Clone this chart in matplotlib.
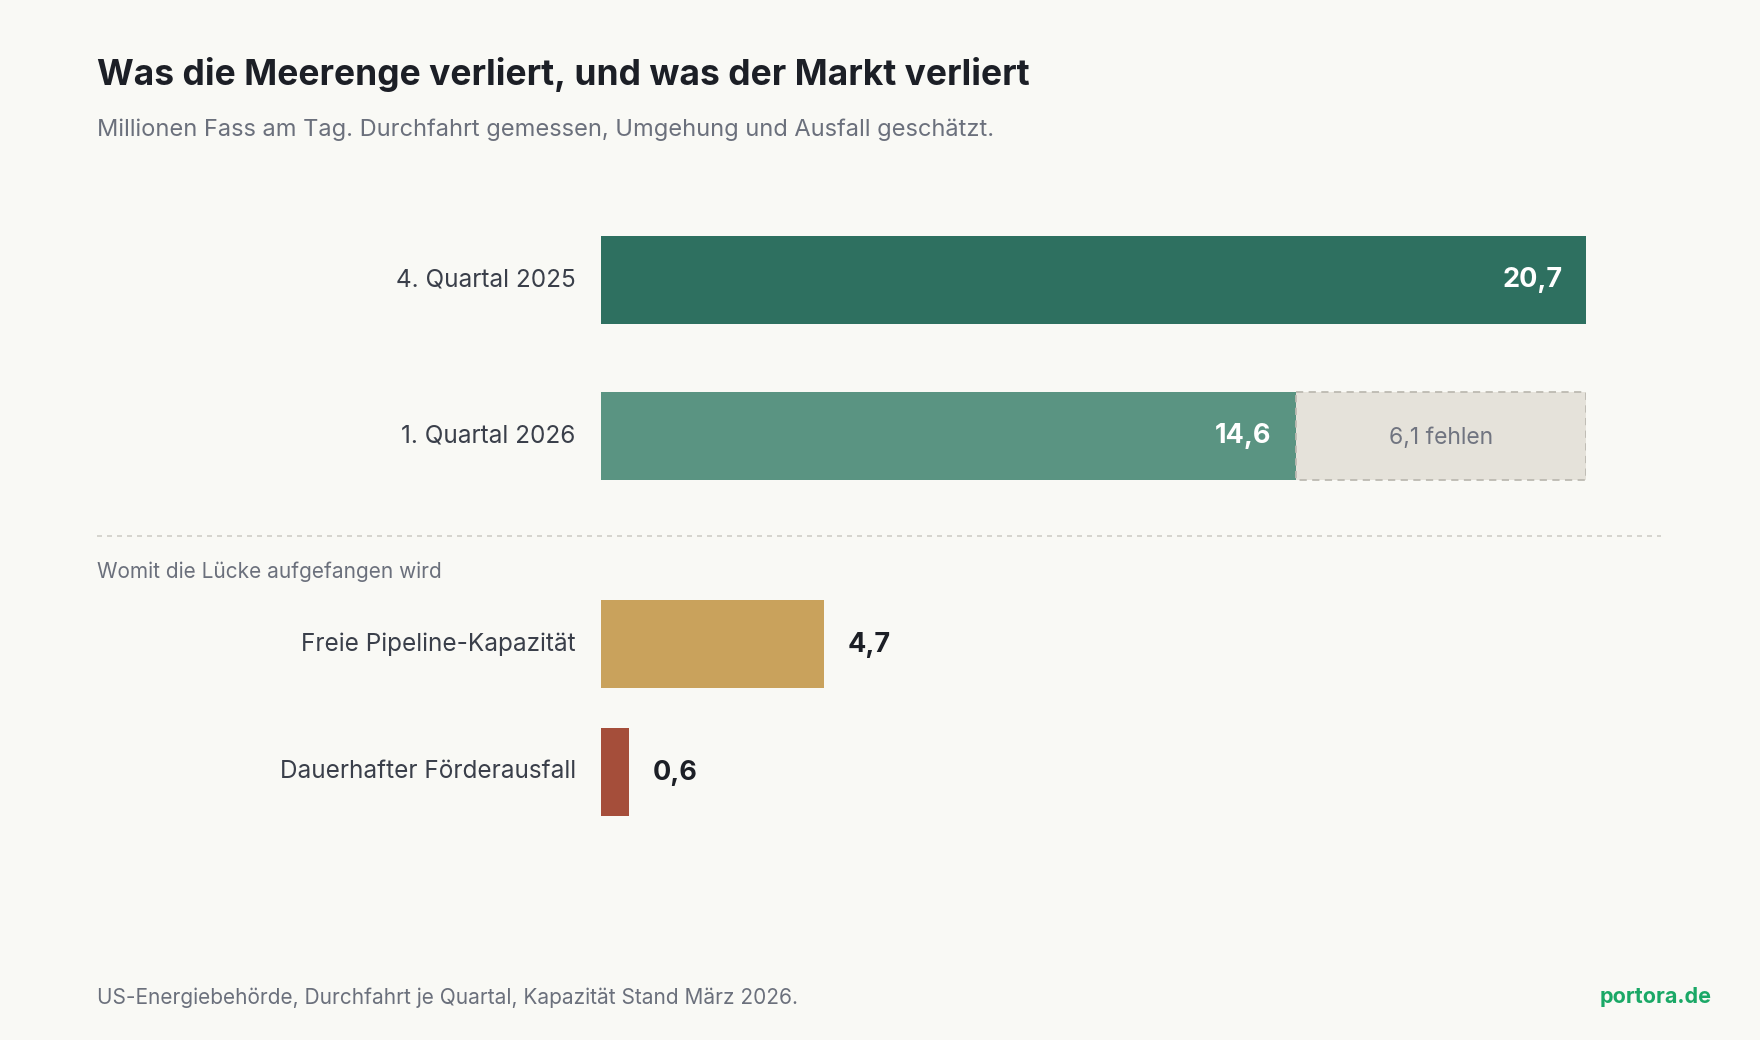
import matplotlib
matplotlib.use("Agg")
import matplotlib.pyplot as plt
from matplotlib.patches import Rectangle

plt.rcParams['font.family'] = ['Inter', 'DejaVu Sans']

top_labels = ["4. Quartal 2025", "1. Quartal 2026"]
top_values = [20.7, 14.6]
gap_value = 6.1
bottom_labels = ["Freie Pipeline-Kapazität", "Dauerhafter Förderausfall"]
bottom_values = [4.7, 0.6]

W, H = 1568, 927
bg = "#f9f9f5"
fig = plt.figure(figsize=(17.6, 10.4), dpi=100, facecolor=bg)
def fx(x): return x / W
def fy(y): return 1 - y / H

ax = fig.add_axes([fx(535), 0, fx(1413) - fx(535), 1])
ax.set_xlim(0, 20.7)
ax.set_ylim(H, 0)
ax.axis("off")
ax.patch.set_alpha(0)

h = 78
ys = [249.5, 388.5]
cols = ["#2e7060", "#5a9482"]
for y, v, c, lab in zip(ys, top_values, cols, top_labels):
    ax.barh(y, v, height=h, color=c)
    ax.text(v - 0.5, y, f"{v:.1f}".replace(".", ","), ha="right", va="center",
            color="white", fontsize=19.5, fontweight="bold")
    fig.text(fx(513), fy(y), lab, ha="right", va="center", fontsize=17.5, color="#3a3f4a")
ax.barh(ys[1], gap_value, left=top_values[1], height=h, color="#e5e2da",
        edgecolor="#bdbab2", linestyle=(0, (4, 3)), linewidth=1.3)
ax.text(top_values[1] + gap_value / 2, ys[1] + 2, f"{gap_value:.1f}".replace(".", ",") + " fehlen",
        ha="center", va="center", color="#707480", fontsize=16.5)

ys2 = [574, 688]
cols2 = ["#c9a25c", "#a54e3a"]
for y, v, c, lab in zip(ys2, bottom_values, cols2, bottom_labels):
    ax.barh(y, v, height=h, color=c)
    ax.text(v + 0.5, y + 1, f"{v:.1f}".replace(".", ","), ha="left", va="center",
            color="#1c1f26", fontsize=19.5, fontweight="bold")
    fig.text(fx(513), fy(y), lab, ha="right", va="center", fontsize=17.5, color="#3a3f4a")

fig.add_artist(plt.Line2D([fx(86), fx(1480)], [fy(478), fy(478)], color="#d0cec8",
                          linestyle=(0, (3, 3)), linewidth=1.2))

fig.text(fx(86), fy(66), "Was die Meerenge verliert, und was der Markt verliert",
         ha="left", va="center", fontsize=25.5, fontweight="bold", color="#1c1f26")
fig.text(fx(86), fy(116), "Millionen Fass am Tag. Durchfahrt gemessen, Umgehung und Ausfall geschätzt.",
         ha="left", va="center", fontsize=17, color="#6b707c")
fig.text(fx(86), fy(510), "Womit die Lücke aufgefangen wird", ha="left", va="center",
         fontsize=15, color="#6b707c")
fig.text(fx(86), fy(889), "US-Energiebehörde, Durchfahrt je Quartal, Kapazität Stand März 2026.",
         ha="left", va="center", fontsize=15, color="#6b707c")
fig.text(fx(1525), fy(889), "portora.de", ha="right", va="center", fontsize=15.5,
         fontweight="bold", color="#1aa866")

fig.savefig("out.png", dpi=100, facecolor=bg)
